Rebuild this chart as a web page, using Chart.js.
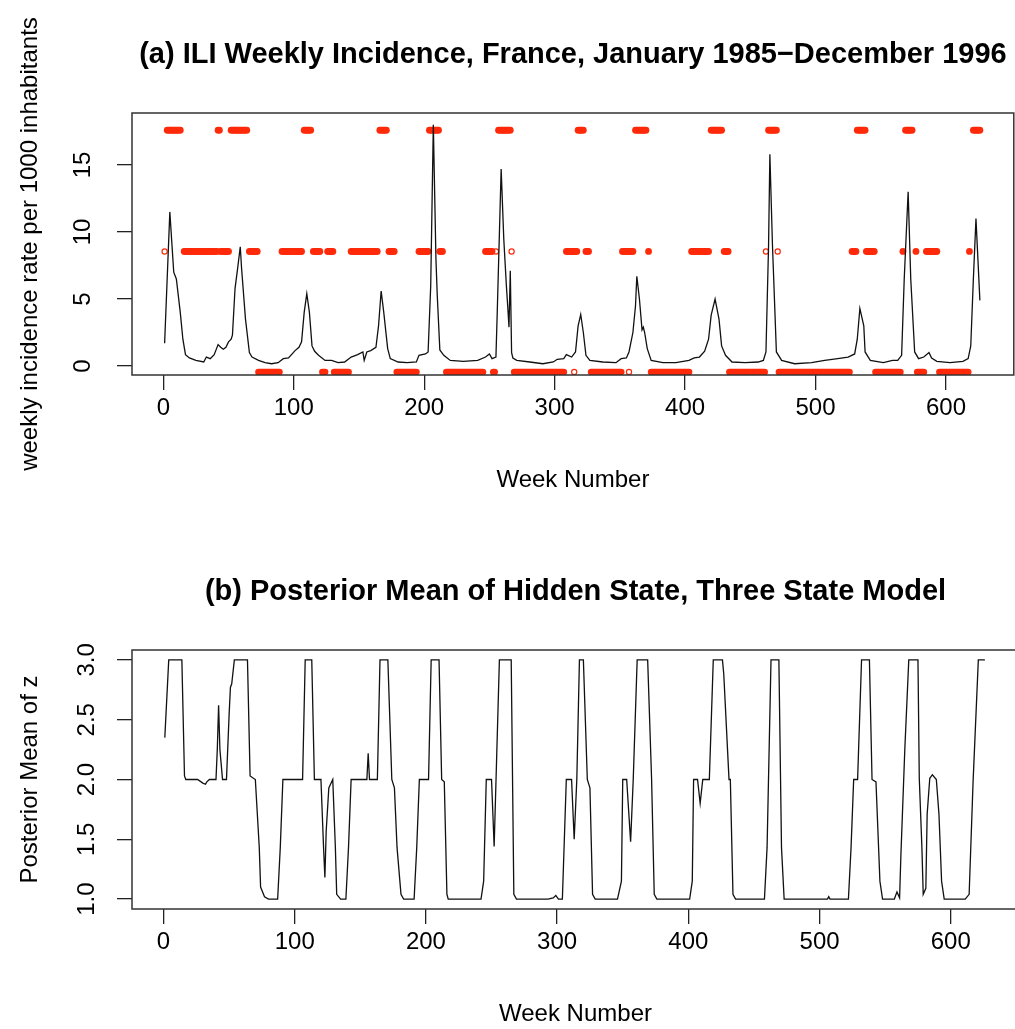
<!DOCTYPE html>
<html>
<head>
<meta charset="utf-8">
<script src="https://cdn.jsdelivr.net/npm/chart.js@4.4.1/dist/chart.umd.min.js"></script>
<style>
  html, body { margin: 0; padding: 0; background: #fff; overflow: hidden; }
  #topChart { position: absolute; left: 0; top: 0; }
  #bottomChart { position: absolute; left: 0; top: 530px; }
</style>
</head>
<body>
<canvas id="topChart" width="1019" height="530"></canvas>
<canvas id="bottomChart" width="1019" height="499"></canvas>
<script>
// weekly ILI incidence
const iliWeeks = [1,5,8,10,13,15,17,20,25,31,33,36,39,42,44,46,48,50,52,53,55,57,59,60,63,66,68,73,78,83,88,92,96,101,104,106,108,110,112,114,116,119,124,129,134,139,144,149,153,154,156,159,163,165,167,169,172,174,180,187,194,196,201,203,205,207,209,210,212,215,220,230,241,247,250,252,255,256,259,261,263,264,265,266,267,268,271,281,291,299,302,307,309,313,316,318,320,322,324,327,337,347,351,355,357,360,362,363,365,367,368,369,371,374,383,393,403,407,411,415,418,420,423,426,428,431,436,446,456,460,462,464,465,467,470,474,484,497,507,517,525,530,532,534,537,538,542,552,559,563,566,568,571,573,576,579,583,587,589,593,603,613,617,619,621,623,626];
const iliValues = [1.7,11.5,7.0,6.5,4.0,2.0,0.85,0.6,0.42,0.3,0.67,0.55,0.85,1.6,1.4,1.25,1.4,1.8,2.0,2.3,5.8,7.3,8.9,7.3,3.5,1.0,0.67,0.42,0.25,0.17,0.25,0.55,0.6,1.15,1.4,1.8,4.0,5.4,4.0,1.5,1.1,0.8,0.42,0.42,0.25,0.3,0.67,0.85,1.05,0.42,1.05,1.15,1.4,3.0,5.6,4.0,1.3,0.55,0.3,0.25,0.3,0.8,0.9,1.05,6.0,18.0,8.0,5.3,1.2,0.8,0.42,0.35,0.42,0.67,0.9,0.55,0.67,4.0,14.7,9.5,6.0,4.5,2.9,7.1,1.0,0.6,0.42,0.3,0.17,0.3,0.5,0.55,0.85,0.67,1.05,3.0,3.85,2.5,0.8,0.42,0.3,0.25,0.55,0.6,1.05,2.5,4.5,6.7,5.0,2.7,2.9,2.5,1.3,0.42,0.25,0.25,0.42,0.6,0.67,1.1,2.0,3.8,5.0,3.5,1.5,0.8,0.3,0.25,0.3,0.42,1.05,9.0,15.8,9.0,1.05,0.42,0.17,0.25,0.42,0.55,0.67,0.9,2.0,4.3,3.0,1.05,0.42,0.25,0.42,0.42,0.8,6.5,13.0,6.5,1.05,0.55,0.67,1.0,0.6,0.35,0.25,0.35,0.55,1.5,6.5,11.0,4.9];

// posterior mean of the hidden state
const zWeeks = [1,4,14,16,17,26,30,32,33,35,40,41,42,43,45,48,50,51,52,54,64,66,70,73,74,77,80,87,89,91,106,108,113,115,120,122,123,124,126,129,131,132,135,139,141,143,152,155,156,157,163,165,171,174,176,178,181,183,191,193,195,202,204,210,212,214,216,217,242,244,246,250,252,256,265,267,269,293,297,299,301,304,307,311,313,315,317,320,323,325,327,329,346,349,350,353,356,358,361,369,372,374,376,401,403,404,407,409,411,416,419,426,427,431,432,434,436,458,460,463,469,471,473,506,507,508,522,524,526,529,532,538,540,543,546,548,557,559,561,562,565,568,575,576,578,579,581,582,584,586,589,591,593,595,611,614,617,621,626];
const zValues = [2.35,3.0,3.0,2.03,2.0,2.0,1.97,1.96,1.98,2.0,2.0,2.25,2.62,2.25,2.0,2.0,2.54,2.77,2.8,3.0,3.0,2.03,2.0,1.43,1.1,1.02,1.0,1.0,1.43,2.0,2.0,3.0,3.0,2.0,2.0,1.43,1.18,1.57,1.93,2.0,1.43,1.04,1.0,1.0,1.43,2.0,2.0,2.0,2.22,2.0,2.0,3.0,3.0,2.0,1.93,1.43,1.04,1.0,1.0,1.43,2.0,2.0,3.0,3.0,2.0,1.98,1.04,1.0,1.0,1.15,2.0,2.0,1.44,3.0,3.0,1.04,1.0,1.0,1.01,1.03,1.0,1.0,2.0,2.0,1.5,2.0,3.0,3.0,2.0,1.93,1.04,1.0,1.0,1.15,2.0,2.0,1.48,2.0,3.0,3.0,2.0,1.04,1.0,1.0,1.15,2.0,2.0,1.8,2.0,2.0,3.0,3.0,2.88,2.0,2.0,1.04,1.0,1.0,1.43,3.0,3.0,1.43,1.0,1.0,1.02,1.0,1.0,1.43,2.0,2.0,3.0,3.0,2.0,1.98,1.15,1.0,1.0,1.06,1.01,1.37,2.26,3.0,3.0,2.01,1.43,1.04,1.09,1.71,2.01,2.04,2.0,1.71,1.15,1.0,1.0,1.04,1.98,3.0,3.0];

// classified state per week, as runs [first week, last week]
const state3Runs = [[3,13],[42,43],[52,64],[108,113],[166,171],[204,211],[257,266],[318,322],[362,370],[420,428],[464,470],[532,538],[569,574],[621,626]];
const state2Runs = [[16,41],[44,50],[66,72],[91,106],[115,120],[126,130],[144,164],[173,177],[196,203],[212,214],[247,252],[309,317],[324,326],[352,360],[372,372],[405,418],[430,433],[528,531],[539,545],[567,567],[577,577],[585,593],[618,618]];
const state1Runs = [[73,89],[122,124],[131,142],[179,194],[217,245],[253,254],[269,307],[328,351],[374,403],[434,461],[472,526],[546,565],[578,583],[595,617]];
const hollowState2 = [1,255,267,462,471];
const hollowState1 = [315,357];
const stateLevels = { s1: -0.45, s2: 8.55, s3: 17.6 };

const xTicks = [0,100,200,300,400,500,600];
const yTicksTop = [0,5,10,15];
const yTicksBottom = [1.0,1.5,2.0,2.5,3.0];

const FONT = "'Liberation Sans', Arial, Helvetica, sans-serif";
const RED = '#ff2a0a';

function runsToPoints(runs, level) {
  const pts = [];
  runs.forEach(([a, b]) => { for (let w = a; w <= b; w++) pts.push({ x: w, y: level }); });
  return pts;
}
function pair(xs, ys) { return xs.map((x, i) => ({ x: x, y: ys[i] })); }

// frame round the plot region, like R's box()
const boxPlugin = {
  id: 'box',
  afterDatasetsDraw(chart) {
    const { ctx, chartArea: a } = chart;
    ctx.save();
    ctx.strokeStyle = '#333';
    ctx.lineWidth = 1.5;
    ctx.strokeRect(a.left, a.top, a.right - a.left, a.bottom - a.top);
    ctx.restore();
  }
};

// main title centred over the plot region (R centres it there, not on the canvas)
const mainTitle = {
  id: 'mainTitle',
  afterDraw(chart, args, opts) {
    const { ctx, chartArea: a } = chart;
    ctx.save();
    ctx.font = 'bold 29px ' + FONT;
    ctx.fillStyle = '#000';
    ctx.textAlign = 'center';
    ctx.textBaseline = 'middle';
    ctx.fillText(opts.text, (a.left + a.right) / 2, opts.y);
    ctx.restore();
  }
};

function makeOptions(cfg) {
  return {
    responsive: false,
    animation: false,
    layout: { padding: { top: cfg.areaTop, left: 0, right: 0, bottom: 0 } },
    plugins: {
      legend: { display: false },
      tooltip: { enabled: false },
      title: { display: false },
      mainTitle: { text: cfg.title, y: cfg.titleY }
    },
    scales: {
      x: {
        type: 'linear',
        min: -24, max: 652,
        afterBuildTicks: s => { s.ticks = xTicks.map(v => ({ value: v })); },
        afterFit: s => { s.height = cfg.xHeight; },
        grid: { drawOnChartArea: false, drawTicks: true, tickLength: 15, color: '#222', lineWidth: 1.3 },
        border: { display: false },
        ticks: { color: '#000', font: { family: FONT, size: 24 }, padding: 4, maxRotation: 0 },
        title: {
          display: true, text: 'Week Number', color: '#000',
          font: { family: FONT, size: 24 },
          padding: { top: 0, bottom: cfg.xTitleBottom }
        }
      },
      y: {
        type: 'linear',
        min: cfg.yMin, max: cfg.yMax,
        afterBuildTicks: s => { s.ticks = cfg.yTicks.map(v => ({ value: v })); },
        afterFit: s => { s.width = 132; },
        grid: { drawOnChartArea: false, drawTicks: true, tickLength: 15, color: '#222', lineWidth: 1.3 },
        border: { display: false },
        ticks: {
          color: '#000', font: { family: FONT, size: 24 },
          minRotation: 90, maxRotation: 90, crossAlign: 'center',
          padding: cfg.yTickPad,
          callback: cfg.yFormat
        },
        title: {
          display: true, text: cfg.yTitle, color: '#000',
          font: { family: FONT, size: 24 },
          padding: { top: 16, bottom: 0 }
        }
      }
    }
  };
}

new Chart(document.getElementById('topChart'), {
  type: 'scatter',
  data: {
    datasets: [
      {
        data: pair(iliWeeks, iliValues), showLine: true,
        borderColor: '#111', borderWidth: 1.3, pointRadius: 0, tension: 0
      },
      {
        data: runsToPoints(state3Runs, stateLevels.s3)
          .concat(runsToPoints(state2Runs, stateLevels.s2))
          .concat(runsToPoints(state1Runs, stateLevels.s1)),
        pointRadius: 3.4, backgroundColor: RED, borderWidth: 0
      },
      {
        data: hollowState2.map(w => ({ x: w, y: stateLevels.s2 }))
          .concat(hollowState1.map(w => ({ x: w, y: stateLevels.s1 }))),
        pointRadius: 2.6, backgroundColor: '#fff', borderColor: RED, borderWidth: 1.2
      }
    ]
  },
  options: makeOptions({
    title: '(a) ILI Weekly Incidence, France, January 1985\u2212December 1996',
    titleY: 55, areaTop: 113,
    xHeight: 155, xTitleBottom: 35,
    yMin: -0.67, yMax: 18.88, yTicks: yTicksTop, yTickPad: 20,
    yFormat: v => String(v),
    yTitle: 'weekly incidence rate per 1000 inhabitants'
  }),
  plugins: [boxPlugin, mainTitle]
});

new Chart(document.getElementById('bottomChart'), {
  type: 'scatter',
  data: {
    datasets: [
      {
        data: pair(zWeeks, zValues), showLine: true,
        borderColor: '#111', borderWidth: 1.3, pointRadius: 0, tension: 0
      }
    ]
  },
  options: makeOptions({
    title: '(b) Posterior Mean of Hidden State, Three State Model',
    titleY: 62, areaTop: 120,
    xHeight: 120, xTitleBottom: 0,
    yMin: 0.917, yMax: 3.083, yTicks: yTicksBottom, yTickPad: 13,
    yFormat: v => v.toFixed(1),
    yTitle: 'Posterior Mean of z'
  }),
  plugins: [boxPlugin, mainTitle]
});
</script>
</body>
</html>
